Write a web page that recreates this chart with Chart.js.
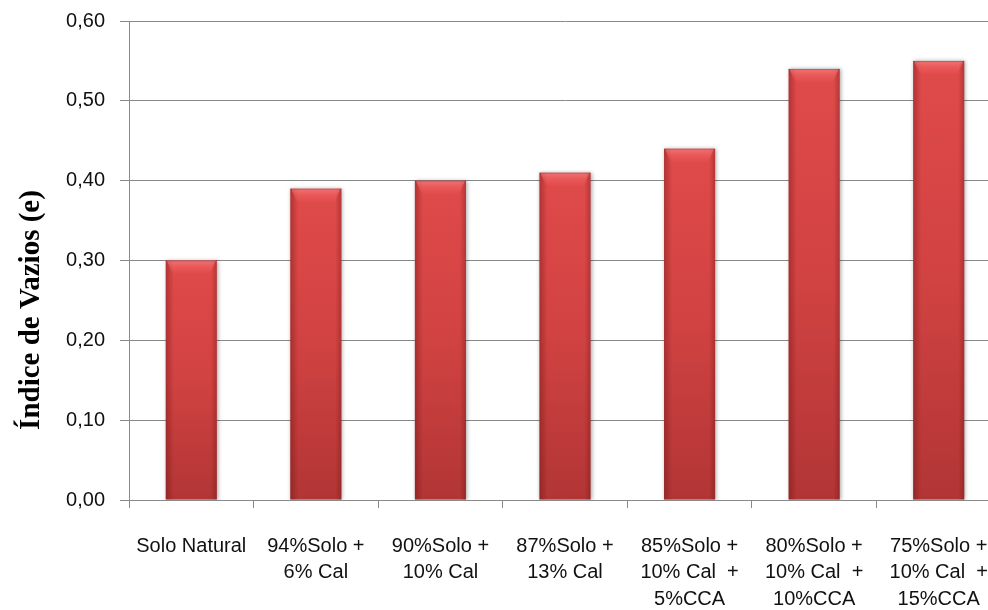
<!DOCTYPE html>
<html>
<head>
<meta charset="utf-8">
<script src="https://cdn.jsdelivr.net/npm/chart.js@4/dist/chart.umd.min.js"></script>
<style>
  html, body { margin: 0; padding: 0; background: #ffffff; overflow: hidden; }
  #wrap { width: 1002px; height: 610px; }
</style>
</head>
<body>
<div id="wrap"><canvas id="c" width="1002" height="610"></canvas></div>
<script>
// Void ratio per soil mixture
const categories = [
  ['Solo Natural'],
  ['94%Solo +', '6% Cal'],
  ['90%Solo +', '10% Cal'],
  ['87%Solo +', '13% Cal'],
  ['85%Solo +', '10% Cal  +', '5%CCA'],
  ['80%Solo +', '10% Cal  +', '10%CCA'],
  ['75%Solo +', '10% Cal  +', '15%CCA']
];
const voidRatio = [0.30, 0.39, 0.40, 0.41, 0.44, 0.54, 0.55];
const yTicks = [0, 0.1, 0.2, 0.3, 0.4, 0.5, 0.6];
const yTitle = 'Índice de Vazios (e)';

const AXIS = '#898989';
const TEXT = '#111111';

// Vertical red gradient spanning each bar from its top to the baseline
function barFill(ctx) {
  const chart = ctx.chart;
  const area = chart.chartArea;
  if (!area || ctx.type !== 'data') return '#c83c3c';
  const ys = chart.scales.y;
  const top = ys.getPixelForValue(ctx.parsed.y);
  const base = ys.getPixelForValue(0);
  const g = chart.ctx.createLinearGradient(0, top, 0, base);
  g.addColorStop(0, '#e04a4a');
  g.addColorStop(0.5, '#d14242');
  g.addColorStop(1, '#b23535');
  return g;
}

// Soft shadow behind the bars
const barShadow = {
  id: 'barShadow',
  beforeDatasetDraw(chart) {
    const c = chart.ctx;
    c.save();
    c.shadowColor = 'rgba(0,0,0,0.35)';
    c.shadowBlur = 4;
    c.shadowOffsetX = 1;
    c.shadowOffsetY = 0;
  },
  afterDatasetDraw(chart) {
    chart.ctx.restore();
  }
};

// Rounded bevel: light cap at the top and shaded side edges
const barBevel = {
  id: 'barBevel',
  afterDatasetsDraw(chart) {
    const c = chart.ctx;
    const meta = chart.getDatasetMeta(0);
    meta.data.forEach(bar => {
      const p = bar.getProps(['x', 'y', 'base', 'width'], true);
      const l = p.x - p.width / 2, r = p.x + p.width / 2;
      const t = p.y, b = p.base;
      c.save();
      // left edge shade
      let g = c.createLinearGradient(l, 0, l + 8, 0);
      g.addColorStop(0, 'rgba(90,10,10,0.35)');
      g.addColorStop(1, 'rgba(90,10,10,0)');
      c.fillStyle = g;
      c.fillRect(l, t, 8, b - t);
      // right edge shade
      g = c.createLinearGradient(r, 0, r - 6, 0);
      g.addColorStop(0, 'rgba(90,10,10,0.30)');
      g.addColorStop(1, 'rgba(90,10,10,0)');
      c.fillStyle = g;
      c.fillRect(r - 6, t, 6, b - t);
      // top cap highlight
      c.beginPath();
      c.moveTo(l + 1, t);
      c.lineTo(r - 1, t);
      c.lineTo(r - 7, t + 14);
      c.lineTo(l + 7, t + 14);
      c.closePath();
      g = c.createLinearGradient(0, t, 0, t + 14);
      g.addColorStop(0, 'rgba(255,150,150,0.55)');
      g.addColorStop(0.5, 'rgba(255,120,120,0.30)');
      g.addColorStop(1, 'rgba(255,120,120,0)');
      c.fillStyle = g;
      c.fill();
      // thin darker rim at the very top
      c.fillStyle = 'rgba(150,30,30,0.35)';
      c.fillRect(l, t, r - l, 1);
      c.restore();
    });
  }
};

// Rotated axis title
const yAxisTitle = {
  id: 'yAxisTitle',
  afterDraw(chart) {
    const c = chart.ctx;
    c.save();
    c.translate(32, 310);
    c.rotate(-Math.PI / 2);
    c.font = 'bold 29px "Liberation Serif", "Times New Roman", serif';
    c.fillStyle = '#000000';
    c.textAlign = 'center';
    c.textBaseline = 'middle';
    c.fillText(yTitle, 0, 0);
    c.restore();
  }
};

new Chart(document.getElementById('c'), {
  type: 'bar',
  data: {
    labels: categories,
    datasets: [{
      data: voidRatio,
      backgroundColor: barFill,
      borderWidth: 0,
      categoryPercentage: 1.0,
      barPercentage: 0.41
    }]
  },
  options: {
    responsive: false,
    devicePixelRatio: 1,
    animation: false,
    layout: { padding: { top: 21, right: 1, left: 0, bottom: 0 } },
    plugins: {
      legend: { display: false },
      tooltip: { enabled: false },
      title: { display: false }
    },
    scales: {
      x: {
        offset: true,
        grid: {
          offset: true,
          drawOnChartArea: false,
          drawTicks: true,
          tickLength: 8,
          color: AXIS
        },
        border: { color: AXIS, width: 1 },
        ticks: {
          color: TEXT,
          maxRotation: 0,
          autoSkip: false,
          padding: 25,
          font: { family: '"Liberation Sans", Arial, sans-serif', size: 20, lineHeight: 1.33 }
        },
        afterFit(scale) {
          scale.height = 110;
          scale.paddingLeft = 0;
          scale.paddingRight = 0;
        }
      },
      y: {
        min: 0,
        max: 0.6,
        afterBuildTicks(scale) { scale.ticks = yTicks.map(v => ({ value: v })); },
        grid: {
          color: AXIS,
          drawTicks: true,
          tickLength: 9
        },
        border: { color: AXIS, width: 1 },
        ticks: {
          color: TEXT,
          padding: 15,
          font: { family: '"Liberation Sans", Arial, sans-serif', size: 20 },
          callback: v => v.toFixed(2).replace('.', ',')
        },
        afterFit(scale) {
          scale.width = 129;
          scale.paddingTop = 0;
          scale.paddingBottom = 0;
        }
      }
    }
  },
  plugins: [barShadow, barBevel, yAxisTitle]
});
</script>
</body>
</html>
